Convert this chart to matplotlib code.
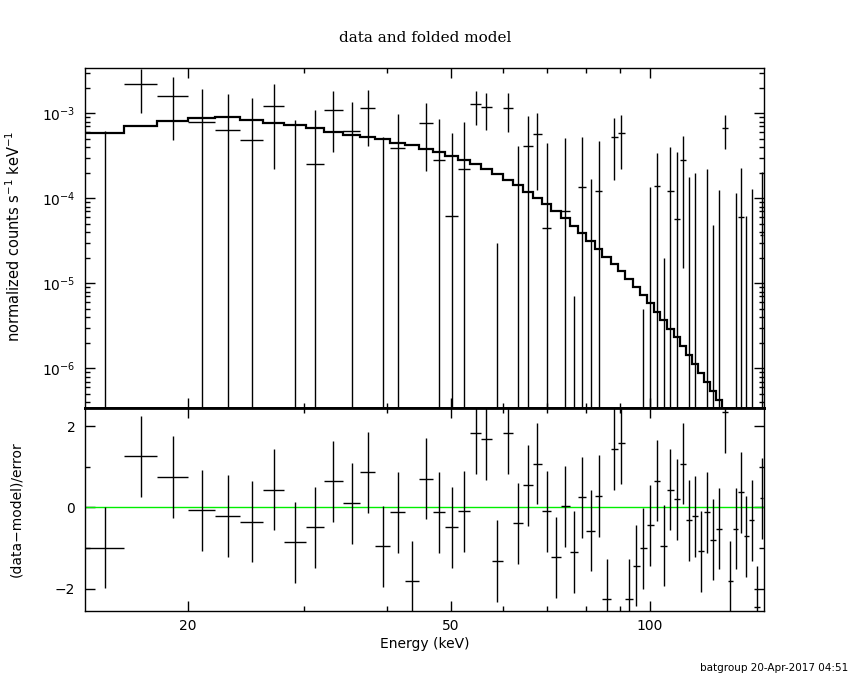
import numpy as np
import matplotlib
matplotlib.use("Agg")
import matplotlib.pyplot as plt
from matplotlib.ticker import FixedLocator, NullFormatter, LogLocator, FixedFormatter

# ---- data ----
edges = [14.0, 16.0, 18.0, 20.0, 22.0, 24.0, 26.0, 28.0, 30.2, 32.1,
         34.3, 36.5, 38.4, 40.5, 42.6, 44.7, 47.0, 49.0, 51.3, 53.5,
         55.5, 57.7, 59.9, 62.1, 64.4, 66.5, 68.7, 71.0, 73.3, 75.6,
         77.8, 80.2, 82.5, 84.8, 87.2, 89.4, 91.8, 94.2, 96.6, 98.9,
         101.4, 103.7, 106.2, 108.6, 111.0, 113.5, 116.0, 118.4, 120.9, 123.5,
         126.1, 128.6, 131.1, 133.5, 136.1, 138.6, 141.3, 143.9, 146.7, 148.4]

rate = [-4.75e-4, 2.19e-3, 1.585e-3, 7.84e-4, 6.31e-4, 4.81e-4, 1.21e-3, -1.67e-4,
        2.54e-4, 1.08e-3, 6.25e-4, 1.145e-3, -1.77e-4, 3.88e-4, -6.65e-4, 7.62e-4,
        2.8e-4, 6.14e-5, 2.19e-4, 1.28e-3, 1.18e-3, -4.74e-4, 1.155e-3, -3.1e-5,
        4.12e-4, 5.66e-4,
        4.48e-5, -4.46e-4, 7.1e-5, -3.93e-4, 1.35e-4, -1.5e-4, 1.21e-4, -7.7e-4,
        5.23e-4, 5.82e-4, -7.35e-4, -4.2e-4, -2.75e-4, -9.7e-5, 1.38e-4, -2.6e-4,
        1.23e-4, 5.66e-5, 2.8e-4, -8.3e-5, -5.6e-5, -2.8e-4, -2.9e-5, -1.84e-4,
        -1.35e-4, 6.71e-4, -4.37e-4, -1.25e-4, 5.97e-5, -1.52e-4, -6.1e-5, -5.4e-4,
        3.7e-5]

rate_err = [1.1e-3, 1.17e-3, 1.1e-3, 1.15e-3, 1.06e-3, 1.03e-3, 0.99e-3, 1.0e-3,
            8.4e-4, 7.3e-4, 7.2e-4, 7.3e-4, 7.0e-4, 5.85e-4, 6.0e-4, 5.5e-4,
            5.77e-4, 5.25e-4, 5.7e-4, 5.5e-4, 5.5e-4, 5.04e-4, 5.6e-4, 4.43e-4,
            5.2e-4, 4.4e-4,
            4.03e-4, 4.2e-4, 4.42e-4, 4.0e-4, 3.9e-4, 3.2e-4, 3.5e-4, 3.5e-4,
            3.6e-4, 3.6e-4, 3.3e-4, 3.0e-4, 2.8e-4, 2.34e-4, 2.03e-4, 2.8e-4,
            2.8e-4, 2.94e-4, 2.65e-4, 2.63e-4, 2.56e-4, 2.6e-4, 2.5e-4, 2.33e-4,
            2.6e-4, 2.9e-4, 2.4e-4, 2.4e-4, 1.67e-4, 2.14e-4, 1.9e-4, 2.2e-4,
            1.68e-4]

model = [5.91e-4, 7.15e-4, 8.05e-4, 8.73e-4, 8.97e-4, 8.41e-4, 7.76e-4, 7.22e-4, 6.66e-4, 6.08e-4,
         5.6e-4, 5.31e-4, 4.94e-4, 4.51e-4, 4.27e-4, 3.84e-4, 3.48e-4, 3.17e-4, 2.8e-4, 2.53e-4,
         2.19e-4, 1.91e-4, 1.66e-4, 1.42e-4, 1.2e-4, 1.02e-4, 8.57e-5, 7.1e-5, 5.82e-5, 4.72e-5,
         3.87e-5, 3.12e-5, 2.53e-5, 2.06e-5, 1.69e-5, 1.4e-5, 1.12e-5, 9.12e-6, 7.34e-6, 5.82e-6,
         4.64e-6, 3.67e-6, 2.9e-6, 2.32e-6, 1.82e-6, 1.42e-6, 1.12e-6, 8.81e-7, 6.96e-7, 5.45e-7,
         4.24e-7, 3.3e-7, 2.6e-7, 2.0e-7, 1.55e-7, 1.2e-7, 9.3e-8, 7.2e-8, 5.6e-8]

resid = [-0.99, 1.26, 0.75, -0.07, -0.21, -0.35, 0.44, -0.86,
         -0.49, 0.64, 0.10, 0.86, -0.96, -0.12, -1.82, 0.71, -0.12, -0.49, -0.10,
         1.82, 1.68, -1.32, 1.82, -0.39, 0.54, 1.08,
         -0.10, -1.23, 0.03, -1.10, 0.25, -0.57, 0.28, -2.26, 1.44, 1.58, -2.26,
         -1.43, -1.01, -0.44, 0.66, -0.94, 0.44, 0.20, 1.08, -0.32, -0.22, -1.08,
         -0.12, -0.79, -0.52, 2.35, -1.82, -0.52, 0.37, -0.71, -0.32, -2.44, 0.22]

xticks_major = [20, 50, 100]
xticks_minor = [30, 40, 60, 70, 80, 90]
xtick_labels = ["20", "50", "100"]

# ---- figure ----
fig = plt.figure(figsize=(8.5, 6.8), dpi=100)
plt.rcParams['font.family'] = ['DejaVu Sans']

ax1 = fig.add_axes([0.1, 0.39956, 0.7988, 0.5])
ax2 = fig.add_axes([0.1, 0.10147, 0.7988, 0.29809], sharex=ax1)

e = np.array(edges)
lo_e, hi_e = e[:-1], e[1:]
cen = 0.5 * (lo_e + hi_e)
d = np.array(rate)
de = np.array(rate_err)
m = np.array(model)
r = np.array(resid)

YMIN, YMAX = 3.39e-7, 3.38e-3
XMIN, XMAX = 13.99, 148.8

# top panel
ax1.set_xscale('log')
ax1.set_yscale('log')
ax1.set_xlim(XMIN, XMAX)
ax1.set_ylim(YMIN, YMAX)

up = d + de
low = d - de
show_v = up > 0
low_c = np.where(low > 0, low, 1e-12)
ax1.vlines(cen[show_v], low_c[show_v], up[show_v], colors='black', lw=1.0)
pos = d > 0
ax1.hlines(d[pos], lo_e[pos], hi_e[pos], colors='black', lw=1.0)
ax1.stairs(m, e, color='black', lw=1.6, baseline=None)

# residual panel
ax2.set_ylim(-2.55, 2.44)
ax2.axhline(0, color='#00ee00', lw=1.0)
ax2.vlines(cen, r - 1, r + 1, colors='black', lw=1.0)
ax2.hlines(r, lo_e, hi_e, colors='black', lw=1.0)

for ax in (ax1, ax2):
    ax.xaxis.set_major_locator(FixedLocator(xticks_major))
    ax.xaxis.set_minor_locator(FixedLocator(xticks_minor))
    ax.tick_params(which='major', direction='in', top=True, right=True,
                   length=7, width=1.0, labelsize=10, pad=7)
    ax.tick_params(which='minor', direction='in', top=True, right=True,
                   length=3.5, width=1.0)
    for s in ax.spines.values():
        s.set_linewidth(1.0)
ax1.spines['bottom'].set_linewidth(2.0)
ax2.spines['top'].set_linewidth(2.0)

ax1.yaxis.set_major_locator(LogLocator(base=10, numticks=20))
ax1.yaxis.set_minor_locator(LogLocator(base=10, subs=np.arange(2, 10), numticks=20))
ax1.tick_params(axis='x', which='both', labelbottom=False)

ax2.xaxis.set_major_formatter(FixedFormatter(xtick_labels))
ax2.xaxis.set_minor_formatter(NullFormatter())
ax2.yaxis.set_major_locator(FixedLocator([-2, 0, 2]))
ax2.yaxis.set_minor_locator(FixedLocator([-1, 1]))
ax2.tick_params(axis='x', which='major', pad=6)

fig.text(425/850, 1 - 38.5/680, "data and folded model", ha='center', va='center',
         fontsize=11, family='DejaVu Serif')
fig.text(14/850, 1 - 236/680, r"normalized counts s$^{-1}$ keV$^{-1}$", rotation=90,
         ha='center', va='center', fontsize=10.5)
fig.text(16/850, 1 - 509/680, "(data\u2212model)/error", rotation=90,
         ha='center', va='center', fontsize=10)
fig.text(425/850, 1 - 644/680, "Energy (keV)", ha='center', va='center', fontsize=10)
fig.text(848/850, 1 - 668/680, "batgroup 20-Apr-2017 04:51", ha='right', va='center',
         fontsize=7.5)

fig.savefig("out.png", dpi=100)
